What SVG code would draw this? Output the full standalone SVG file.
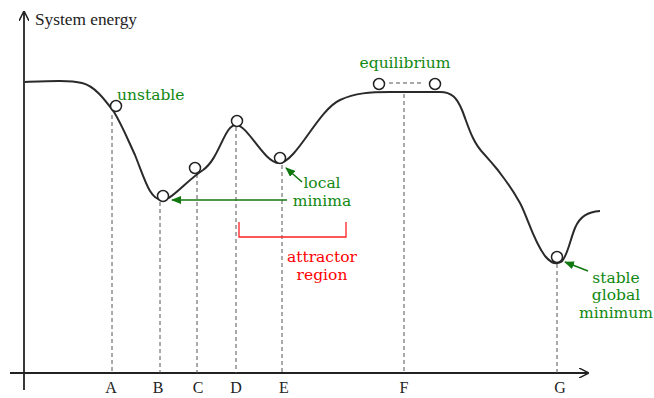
<svg xmlns="http://www.w3.org/2000/svg" width="654" height="398" viewBox="0 0 654 398">
<defs>
<style>
.ax{stroke:#222;stroke-width:1.8;fill:none}
.curve{stroke:#2a2a2a;stroke-width:2;fill:none}
.dash{stroke:#555;stroke-width:1;stroke-dasharray:4,3;fill:none}
.ball{stroke:#222;stroke-width:1.5;fill:#fff}
.lbl{font-family:"Liberation Serif","Times New Roman","DejaVu Serif",serif;font-size:16px;fill:#222}
.g{font-family:"DejaVu Serif","Noto Serif","Liberation Serif",serif;font-size:15.5px;fill:#118811}
.r{font-family:"DejaVu Serif","Noto Serif","Liberation Serif",serif;font-size:15.5px;fill:#ff0000}
.garr{stroke:#117711;stroke-width:1.6;fill:none}
</style>
<marker id="ah" markerWidth="10" markerHeight="10" refX="9" refY="5" orient="auto" markerUnits="userSpaceOnUse"><path d="M0,0 L10,5 L0,10" fill="none" stroke="#222" stroke-width="1.5"/></marker>
<marker id="gh" markerWidth="10" markerHeight="8" refX="9" refY="4" orient="auto" markerUnits="userSpaceOnUse"><path d="M0,0 L10,4 L0,8 Z" fill="#117711"/></marker>
</defs>
<g id="axes">
<line class="ax" x1="24" y1="390" x2="24" y2="12" marker-end="url(#ah)"/>
<line class="ax" x1="10" y1="373" x2="588" y2="373" marker-end="url(#ah)"/>
<text class="lbl" x="35" y="25" font-size="17" textLength="102" lengthAdjust="spacingAndGlyphs">System energy</text>
</g>
<g id="connectors">
<line class="dash" x1="112" y1="115" x2="112" y2="373"/>
<line class="dash" x1="160" y1="202" x2="160" y2="373"/>
<line class="dash" x1="197" y1="174" x2="197" y2="373"/>
<line class="dash" x1="236" y1="127" x2="236" y2="373"/>
<line class="dash" x1="282" y1="165" x2="282" y2="373"/>
<line class="dash" x1="404" y1="94" x2="404" y2="373"/>
<line class="dash" x1="557" y1="264" x2="557" y2="373"/>
<line class="dash" x1="389" y1="83" x2="424" y2="83"/>
<line class="garr" x1="287" y1="200" x2="172" y2="200" marker-end="url(#gh)"/>
<line class="garr" x1="302" y1="182" x2="286" y2="168" marker-end="url(#gh)"/>
<line class="garr" x1="588" y1="271" x2="565" y2="262" marker-end="url(#gh)"/>
<path d="M239,222 V237 H346 V222" stroke="#ff2222" stroke-width="1.3" fill="none"/>
</g>
<g id="curve">
<path class="curve" d="M25,82 C50,81 70,80 82,83 C95,86 105,100 114,112 C122,125 128,140 135,155 C145,180 150,200 162,200 C172,200 185,182 203,170 C220,158 224,125 236,125 C248,125 264,163 279,163 C296,163 318,110 340,100 C355,93 370,92 390,92 L440,92 C452,92 457,98 462,110 C468,125 472,142 484,154 C497,168 510,185 520,203 C528,218 533,240 545,256 C550,262 556,265 561,262 C567,258 570,240 575,228 C580,216 588,212 600,211"/>
</g>
<g id="balls">
<circle class="ball" cx="116" cy="106" r="5.5"/>
<circle class="ball" cx="163" cy="196" r="5.5"/>
<circle class="ball" cx="195" cy="168" r="5.5"/>
<circle class="ball" cx="237" cy="121" r="5.5"/>
<circle class="ball" cx="280" cy="158" r="5.5"/>
<circle class="ball" cx="379" cy="84" r="5.5"/>
<circle class="ball" cx="435" cy="84" r="5.5"/>
<circle class="ball" cx="557" cy="257" r="5.5"/>
</g>
<g id="labels">
<text class="lbl" x="111" y="393" text-anchor="middle">A</text>
<text class="lbl" x="158" y="393" text-anchor="middle">B</text>
<text class="lbl" x="198" y="393" text-anchor="middle">C</text>
<text class="lbl" x="236" y="393" text-anchor="middle">D</text>
<text class="lbl" x="284" y="393" text-anchor="middle">E</text>
<text class="lbl" x="404" y="393" text-anchor="middle">F</text>
<text class="lbl" x="560" y="393" text-anchor="middle">G</text>
</g>
<g id="unstable"><text class="g" x="117" y="100">unstable</text></g>
<g id="equilibrium"><text class="g" x="405" y="68" text-anchor="middle">equilibrium</text></g>
<g id="local-minima"><text class="g" text-anchor="middle"><tspan x="322" y="188">local</tspan><tspan x="322" y="206">minima</tspan></text></g>
<g id="attractor-region"><text class="r" text-anchor="middle"><tspan x="322" y="262">attractor</tspan><tspan x="322" y="280">region</tspan></text></g>
<g id="stable-global-minimum"><text class="g" text-anchor="middle"><tspan x="616" y="283">stable</tspan><tspan x="616" y="300">global</tspan><tspan x="616" y="318">minimum</tspan></text></g>
</svg>
